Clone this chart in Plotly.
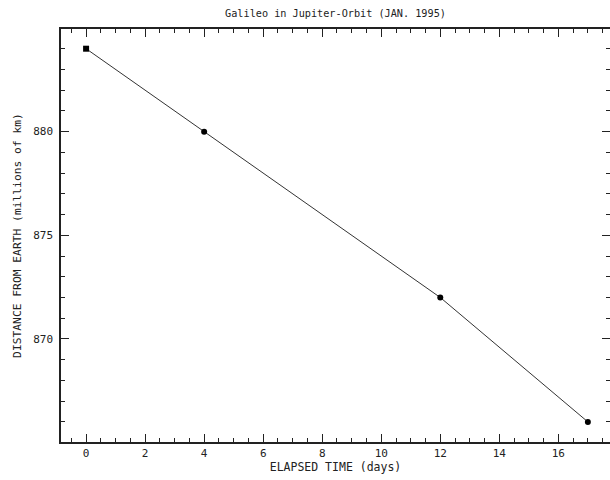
import plotly.graph_objects as go

days = [0, 4, 12, 17]
distance = [884, 880, 872, 866]
marker_symbols = ["square", "circle", "circle", "circle"]

title_text = "Galileo in Jupiter-Orbit (JAN. 1995)"
x_title = "ELAPSED TIME (days)"
y_title = "DISTANCE FROM EARTH (millions of km)"

x_range = [-0.85, 17.75]
y_range = [865.03, 884.95]

ink = "#222"
font = dict(family="DejaVu Sans Mono", size=11, color=ink)

fig = go.Figure()
fig.add_trace(go.Scatter(
    x=days, y=distance, mode="lines+markers",
    line=dict(color="#333", width=1),
    marker=dict(color="black", size=6, symbol=marker_symbols),
    showlegend=False,
))

axis_common = dict(
    showgrid=False, zeroline=False, automargin=False,
    ticks="inside", tickcolor=ink, tickwidth=1, ticklen=8, tickfont=font,
    showline=True, linecolor=ink, linewidth=1.5, mirror="ticks",
)

fig.update_layout(
    width=610, height=480,
    margin=dict(l=61, r=0, t=29, b=38),
    paper_bgcolor="white", plot_bgcolor="white",
    font=font,
    title=dict(text=title_text, x=(61 + 610) / 2 / 610, xanchor="center",
               y=1 - 13 / 480, yanchor="middle",
               font=dict(family="DejaVu Sans Mono", size=10.2, color=ink)),
    xaxis=dict(range=x_range, dtick=2, tick0=0,
               minor=dict(dtick=0.5, tick0=0, ticks="inside", ticklen=4, tickcolor=ink, tickwidth=1),
               title=dict(text=x_title, standoff=2,
                          font=dict(family="DejaVu Sans Mono", size=11.5, color=ink)),
               **axis_common),
    yaxis=dict(range=y_range, dtick=5, tick0=870, ticklabelstandoff=4,
               minor=dict(dtick=1, tick0=865, ticks="inside", ticklen=4, tickcolor=ink, tickwidth=1),
               title=dict(text=y_title, standoff=9,
                          font=dict(family="DejaVu Sans Mono", size=11.3, color=ink)),
               **axis_common),
)

fig.write_html("out.html",
               config={"displayModeBar": False},
               post_script="document.body.style.margin='0';document.body.style.overflow='hidden';")
